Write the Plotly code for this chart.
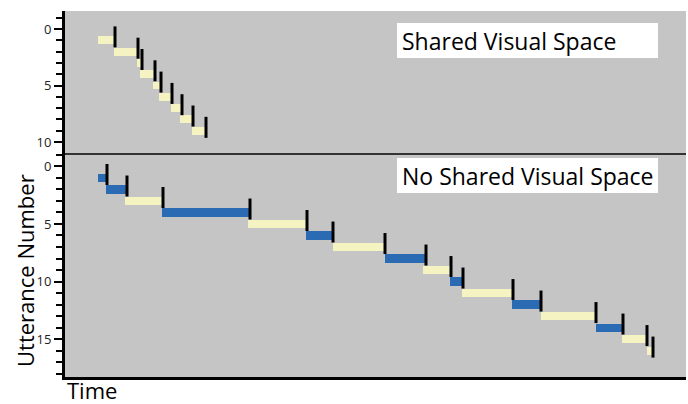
import plotly.graph_objects as go
from plotly.subplots import make_subplots

# ---- data (time in arbitrary units) ----
shared_utt = [1, 2, 3, 4, 5, 6, 7, 8, 9]
shared_start = [33, 49, 72, 75, 88, 94, 106, 115, 127]
shared_end = [50, 73, 77, 90, 96, 107, 117, 128, 141]
shared_speaker = ["B"] * 9

noshared_utt = list(range(1, 17))
noshared_start = [33, 41, 60, 97, 183, 241, 268, 320, 358, 385, 397, 447, 476, 531, 557, 582]
noshared_end = [42, 62, 98, 185, 242, 268, 320, 361, 386, 398, 448, 476, 531, 558, 582, 588]
noshared_speaker = ["A", "A", "B", "A", "B", "A", "B", "A", "B", "A", "B", "A", "B", "A", "B", "B"]

speaker_color = {"A": "#2a6bb3", "B": "#f6f3c3"}
panel_titles = ["Shared Visual Space", "No Shared Visual Space"]

BG = "#c5c5c5"
FONT = "Open Sans"

fig = make_subplots(rows=2, cols=1, shared_xaxes=True, vertical_spacing=0,
                    row_heights=[142, 224])

def add_panel(row, utt, start, end, spk):
    fig.add_trace(go.Bar(
        orientation="h", y=utt, base=start,
        x=[e - s for s, e in zip(start, end)],
        width=0.7,
        marker=dict(color=[speaker_color[s] for s in spk], line=dict(width=0)),
        showlegend=False, hoverinfo="skip"), row=row, col=1)
    fig.add_trace(go.Scatter(
        x=end, y=[u - 0.3 for u in utt], mode="markers",
        marker=dict(symbol="line-ns", size=15, line=dict(width=3, color="black")),
        showlegend=False, hoverinfo="skip"), row=row, col=1)

add_panel(1, shared_utt, shared_start, shared_end, shared_speaker)
add_panel(2, noshared_utt, noshared_start, noshared_end, noshared_speaker)

yaxis_common = dict(
    ticks="outside", ticklen=8, tickwidth=2, tickcolor="black",
    showline=True, linewidth=3, linecolor="black", showgrid=False, zeroline=False,
    tickfont=dict(family=FONT, size=13, color="#222"),
    minor=dict(ticks="outside", ticklen=6, tickwidth=2, tickcolor="black", dtick=1, tick0=0, showgrid=False),
)
fig.update_yaxes(range=[10.97, -1.59], tickvals=[0, 5, 10], row=1, col=1, **yaxis_common)
fig.update_yaxes(range=[18.3, -1.17], tickvals=[0, 5, 10, 15], row=2, col=1, **yaxis_common)

fig.update_xaxes(range=[0, 621], showticklabels=False, ticks="", showgrid=False, zeroline=False)
fig.update_xaxes(showline=True, linewidth=1.5, linecolor="#333", row=1, col=1)
fig.update_xaxes(showline=True, linewidth=3, linecolor="black", row=2, col=1)

fig.update_layout(
    width=688, height=404,
    margin=dict(l=65, r=2, t=11, b=27),
    plot_bgcolor=BG, paper_bgcolor="white",
    barmode="overlay", bargap=0,
    font=dict(family=FONT),
)

# label boxes
fig.add_shape(type="rect", xref="paper", yref="paper",
              x0=(397 - 65) / 621, x1=(658 - 65) / 621,
              y0=(377 - 58) / 366, y1=(377 - 23) / 366,
              fillcolor="white", line=dict(width=0), layer="below")
fig.add_shape(type="rect", xref="paper", yref="paper",
              x0=(397 - 65) / 621, x1=(658 - 65) / 621,
              y0=(377 - 193) / 366, y1=(377 - 158) / 366,
              fillcolor="white", line=dict(width=0), layer="below")
fig.add_annotation(text=panel_titles[0], xref="paper", yref="paper",
                   x=(400 - 65) / 621, y=(377 - 40.5) / 366, xanchor="left", yanchor="middle",
                   showarrow=False, font=dict(family=FONT, size=23, color="black"))
fig.add_annotation(text=panel_titles[1], xref="paper", yref="paper",
                   x=(400 - 65) / 621, y=(377 - 175.5) / 366, xanchor="left", yanchor="middle",
                   showarrow=False, font=dict(family=FONT, size=23, color="black"))

fig.add_annotation(text="Time", xref="paper", yref="paper",
                   x=0, y=(377 - 390) / 366, xanchor="left", yanchor="middle",
                   showarrow=False, font=dict(family=FONT, size=22, color="black"))
fig.add_annotation(text="Utterance Number", xref="paper", yref="paper",
                   x=(25 - 65) / 621, y=(377 - 271) / 366, xanchor="center", yanchor="middle",
                   textangle=-90, showarrow=False, font=dict(family=FONT, size=22, color="black"))

fig.write_html("out.html", config={"displayModeBar": False},
               post_script="document.body.style.margin='0';document.body.style.overflow='hidden';")
